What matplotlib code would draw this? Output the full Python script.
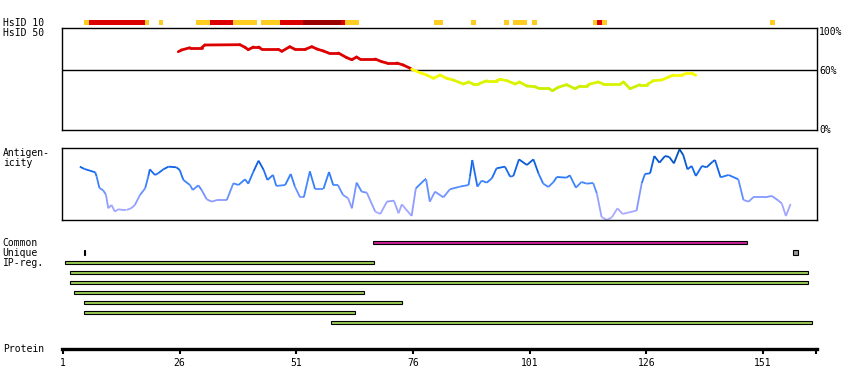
import numpy as np
import matplotlib
matplotlib.use("Agg")
import matplotlib.pyplot as plt
from matplotlib.collections import LineCollection
from matplotlib.colors import LinearSegmentedColormap

# ---------------- data ----------------
protein_length = 162
tick_positions = [1, 26, 51, 76, 101, 126, 151]
tick_labels = ["1", "26", "51", "76", "101", "126", "151"]

# HsID 10 strip: (first residue, last residue, level) level 1=yellow, 2=red, 3=dark red
hsid10_start = [6, 7, 19, 22, 30, 33, 38, 44, 48, 53, 61, 62, 81, 89, 96, 98, 102, 115, 116, 117, 153]
hsid10_end   = [6, 18, 19, 22, 32, 37, 42, 47, 52, 60, 61, 64, 82, 89, 96, 100, 102, 115, 116, 117, 153]
hsid10_level = [1, 2, 1, 1, 1, 2, 1, 1, 2, 3, 2, 1, 1, 1, 1, 1, 1, 1, 2, 1, 1]

# HsID 50 identity curve (residue, percent)
hsid50_res = [25.7, 26.4, 28.2, 30.7, 31.4, 38.9, 40.0, 40.7, 41.8, 42.9, 43.6, 47.1, 47.9,
              49.6, 50.7, 52.9, 54.3, 55.4, 56.8, 57.9, 60.0, 61.8, 62.9, 63.9, 64.6, 67.9,
              69.3, 70.4, 72.5, 73.9, 75.4, 75.7, 77.5, 78.9, 80.4, 81.8, 83.2, 84.6, 86.8,
              87.9, 88.9, 90.0, 91.8, 93.9, 94.6, 96.1, 97.9, 98.8, 100.4, 102.1, 102.9,
              105.0, 105.9, 107.1, 108.9, 110.7, 111.8, 113.2, 113.9, 115.7, 116.8, 120.4,
              121.1, 122.5, 124.6, 126.1, 127.5, 129.3, 131.8, 133.6, 134.6, 135.7, 136.6]
hsid50_pct = [78.6, 80.3, 82.6, 82.6, 85.3, 85.6, 83.0, 80.6, 83.3, 83.3, 81.0, 81.0, 79.0,
              83.6, 81.0, 81.0, 83.6, 81.3, 79.3, 77.3, 77.3, 72.6, 70.6, 73.3, 71.3, 71.3,
              68.6, 67.3, 67.3, 65.3, 62.0, 61.0, 57.6, 55.3, 52.0, 55.3, 52.0, 50.3, 46.3,
              48.3, 46.3, 46.3, 49.6, 49.6, 51.0, 49.6, 46.3, 48.3, 44.3, 43.6, 42.0,
              42.0, 39.6, 43.0, 45.6, 41.6, 44.3, 44.3, 46.3, 48.3, 46.3, 46.3,
              48.3, 41.6, 45.6, 45.6, 49.6, 50.3, 55.3, 55.3, 57.0, 57.0, 55.0]

# Antigenicity (residue, score 0-100)
antig_res = [4.6, 5.6, 7.9, 8.2, 8.8, 9.6, 10.2, 10.7, 11.4, 12.1, 12.8, 13.9, 14.6, 15.6,
             16.4, 17.5, 18.6, 19.3, 19.6, 20.7, 21.4, 22.5, 23.6, 25.3, 26.0, 26.8, 28.2,
             28.8, 30.0, 30.7, 31.8, 32.9, 34.0, 36.1, 37.5, 38.6, 40.0, 40.7, 41.8, 42.9,
             44.0, 44.8, 46.0, 46.7, 48.6, 49.8, 50.7, 51.8, 52.6, 53.9, 55.0, 56.8, 58.0,
             58.9, 59.9, 61.0, 62.1, 62.9, 63.9, 65.0, 66.1, 67.9, 69.0, 70.4, 71.9, 72.9,
             73.6, 75.7, 76.6, 78.6, 78.8, 79.6, 80.7, 82.5, 83.9, 86.0, 87.9, 88.2, 88.7,
             89.8, 90.7, 91.8, 92.9, 93.9, 95.7, 96.8, 97.5, 98.7, 100.4, 101.8, 102.9,
             103.9, 105.0, 106.1, 106.8, 108.9, 109.6, 110.9, 112.1, 113.2, 114.6, 115.4,
             116.4, 117.5, 118.6, 119.8, 120.9, 122.1, 123.9, 125.0, 125.7, 126.8, 127.7,
             128.8, 130.0, 130.9, 131.9, 133.1, 133.9, 134.8, 135.7, 136.6, 137.9, 138.9,
             140.2, 140.7, 141.9, 143.6, 145.7, 146.8, 147.9, 148.9, 151.4, 152.9, 154.3,
             155.0, 155.9, 156.9]
antig_val = [74.2, 71.0, 66.4, 60.8, 44.7, 41.5, 35.5, 16.6, 21.2, 12.0, 15.2, 14.3, 14.3, 16.6,
             21.2, 35.0, 44.2, 61.3, 70.5, 62.7, 65.0, 70.5, 74.2, 73.3, 69.6, 55.8, 48.8,
             41.9, 48.4, 41.9, 29.0, 25.8, 28.1, 28.1, 51.2, 48.8, 56.7, 50.7, 67.3, 82.5,
             69.6, 55.8, 62.7, 47.5, 48.8, 64.1, 46.5, 31.8, 31.8, 67.7, 43.3, 43.3, 66.8,
             48.8, 48.8, 35.0, 30.4, 16.6, 52.1, 39.6, 38.2, 12.0, 8.8, 25.8, 27.2, 9.7,
             22.1, 6.0, 44.2, 56.7, 56.7, 25.8, 39.6, 31.8, 42.9, 46.5, 48.8, 60.4, 83.4,
             46.5, 54.8, 52.1, 58.1, 71.9, 74.2, 60.4, 61.3, 84.3, 76.5, 84.3, 64.5,
             50.7, 46.1, 53.0, 59.9, 59.0, 62.2, 45.2, 53.0, 50.7, 51.6, 36.9,
             4.6, 0.5, 4.1, 16.6, 8.8, 10.6, 13.4, 51.2, 64.1, 65.0, 88.9,
             79.7, 88.9, 87.6, 78.8, 98.2, 90.3, 70.5, 75.1, 61.3, 75.1, 73.3,
             81.1, 83.4, 59.4, 62.7, 56.7, 28.1, 25.8, 31.8, 31.8, 33.6, 27.2,
             23.5, 5.9, 22.6]

# Feature bars: (start, end) in residue coordinates
common_start, common_end = [67.5], [147.6]
unique_start, unique_end = [5.4, 157.4], [5.7, 158.5]
unique_fill = ["black", "#999999"]
ipreg_start = [1.5, 2.4, 2.4, 3.4, 5.4, 5.4, 58.5]
ipreg_end = [67.6, 160.6, 160.6, 65.5, 73.6, 63.6, 161.5]

# ---------------- figure ----------------
W, H = 850, 390
fig = plt.figure(figsize=(W / 100, H / 100), dpi=100)
fig.patch.set_facecolor("white")
FONT = "DejaVu Sans Mono"
FS = 7

X0, X1 = 62, 817
XLIM = (0.786, 162.56)


def add_ax(top, bottom):
    return fig.add_axes([X0 / W, 1 - bottom / H, (X1 - X0) / W, (bottom - top) / H])


def label(x, y, s):
    fig.text(x / W, 1 - y / H, s, fontsize=FS, family=FONT, va="center", ha="left")


# HsID 10 strip
ax10 = add_ax(20, 25)
ax10.set_xlim(*XLIM)
ax10.set_ylim(0, 1)
ax10.axis("off")
lvl_col = {1: "#ffcc22", 2: "#dd0000", 3: "#990000"}
for s, e, l in zip(hsid10_start, hsid10_end, hsid10_level):
    ax10.axvspan(s - 0.5, e + 0.5, 0, 1, color=lvl_col[l], lw=0)

# HsID 50 panel
ax50 = add_ax(28, 130.3)
ax50.set_xlim(*XLIM)
ax50.set_ylim(0, 102.3)
ax50.set_xticks([]); ax50.set_yticks([])
for sp in ax50.spines.values():
    sp.set_linewidth(1.0)
ax50.axhline(60, color="black", lw=1.0)
xr = np.array(hsid50_res); yp = np.array(hsid50_pct)
segs = np.stack([np.column_stack([xr[:-1], yp[:-1]]), np.column_stack([xr[1:], yp[1:]])], axis=1)
ycm = LinearSegmentedColormap.from_list("yl", ["#c8ee00", "#ffff00"])
cols = []
for a, b in zip(yp[:-1], yp[1:]):
    m = (a + b) / 2
    if m >= 60.5:
        cols.append("#dd0000")
    else:
        cols.append(ycm(np.clip((m - 42) / 16, 0, 1)))
ax50.add_collection(LineCollection(segs, colors=cols, linewidths=2.0, capstyle="round"))
for v, t in [(98, "100%"), (59, "60%"), (0, "0%")]:
    ax50.text(1.003, v, t, transform=ax50.get_yaxis_transform(), fontsize=FS, family=FONT,
              va="center", ha="left")

# Antigenicity panel
axa = add_ax(148, 220.3)
axa.set_xlim(*XLIM)
axa.set_ylim(0, 100)
axa.set_xticks([]); axa.set_yticks([])
for sp in axa.spines.values():
    sp.set_linewidth(1.0)
xa = np.array(antig_res); ya = np.array(antig_val)
segs = np.stack([np.column_stack([xa[:-1], ya[:-1]]), np.column_stack([xa[1:], ya[1:]])], axis=1)
acm = LinearSegmentedColormap.from_list("ag", ["#aaaaff", "#8899ff", "#4488ff", "#1166ee", "#0050bb"])
acol = [acm(np.clip(((a + b) / 2 - 10) / 80, 0, 1)) for a, b in zip(ya[:-1], ya[1:])]
axa.add_collection(LineCollection(segs, colors=acol, linewidths=1.3))

# Feature bars
axb = add_ax(237.5, 327.5)
axb.set_xlim(*XLIM)
axb.set_ylim(9, 0)
axb.axis("off")
BH = 0.34
axb.barh([0.5], np.array(common_end) - np.array(common_start), left=common_start, height=BH,
         color="#cc2299", edgecolor="black", linewidth=0.8)
axb.barh([1.5] * 2, np.array(unique_end) - np.array(unique_start), left=unique_start, height=0.42,
         color=unique_fill, edgecolor="black", linewidth=0.8)
axb.barh(np.arange(len(ipreg_start)) + 2.5, np.array(ipreg_end) - np.array(ipreg_start),
         left=ipreg_start, height=BH, color="#99cc55", edgecolor="black", linewidth=0.8)

# Protein axis
axp = fig.add_axes([X0 / W, 1 - 349 / H, (X1 - X0) / W, 0.02])
axp.set_xlim(*XLIM)
axp.set_ylim(0, 1)
for k in ["top", "left", "right"]:
    axp.spines[k].set_visible(False)
axp.spines["bottom"].set_linewidth(2.4)
axp.spines["bottom"].set_bounds(1 - 0.15, 162.56)
axp.set_yticks([])
axp.set_xticks(tick_positions + [162.4])
axp.set_xticklabels(tick_labels + [""], fontsize=FS, family=FONT)
axp.tick_params(axis="x", direction="out", length=3.5, width=1.5, pad=3)
axp.patch.set_visible(False)

# Left labels
label(2.7, 23, "HsID 10")
label(2.7, 33, "HsID 50")
label(2.7, 153, "Antigen-")
label(2.7, 163, "icity")
label(2.7, 243, "Common")
label(2.7, 253, "Unique")
label(2.7, 263, "IP-reg.")
label(2.7, 349.5, "Protein")

fig.savefig("out.png", dpi=100, facecolor="white")
